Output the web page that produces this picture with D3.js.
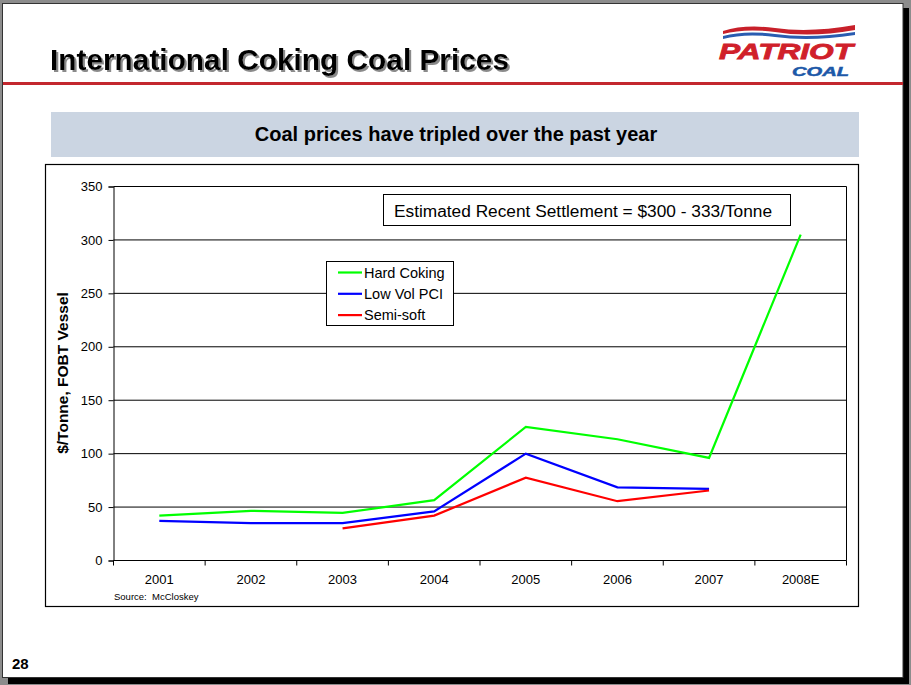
<!DOCTYPE html>
<html><head><meta charset="utf-8">
<script src="https://cdn.jsdelivr.net/npm/d3@7"></script>
<style>
html,body{margin:0;padding:0;background:#8c8c8c;}
svg{display:block;font-family:Arial,"Liberation Sans",sans-serif;}
</style></head>
<body>
<svg id="c" width="911" height="685"></svg>
<script>
const categories = ["2001","2002","2003","2004","2005","2006","2007","2008E"];
const hardCoking = [42, 46.5, 44.5, 56.5, 125, 113.5, 96, 305];
const lowVolPCI  = [37, 35, 35, 46, 100, 68.5, 67, null];
const semiSoft   = [null, null, 30, 42, 77.5, 55.5, 65.5, null];
const yTicks = [0, 50, 100, 150, 200, 250, 300, 350];
const seriesNames = ["Hard Coking", "Low Vol PCI", "Semi-soft"];
const seriesColors = ["#00ff00", "#0000ff", "#ff0000"];

const svg = d3.select("#c");
const defs = svg.append("defs");
const f = defs.append("filter").attr("id","sh").attr("x","-5%").attr("y","-20%").attr("width","110%").attr("height","150%");
f.append("feDropShadow").attr("dx",2).attr("dy",2).attr("stdDeviation",0.6).attr("flood-color","#8a8a8a").attr("flood-opacity",1);

// slide background + shadow
svg.append("rect").attr("x",8).attr("y",8).attr("width",901).attr("height",676).attr("fill","#000");
svg.append("rect").attr("x",2.5).attr("y",3.5).attr("width",900.5).attr("height",674).attr("fill","#fff").attr("stroke","#333").attr("stroke-width",1);

// title
svg.append("text").attr("x",50).attr("y",70).text("International Coking Coal Prices")
  .attr("font-family","'Liberation Sans Narrow','Arial Narrow',Arial,sans-serif").attr("font-weight","bold").attr("font-size",29)
  .attr("fill","#000").attr("textLength",459).attr("lengthAdjust","spacingAndGlyphs").attr("filter","url(#sh)");

// red rule
svg.append("rect").attr("x",3).attr("y",82).attr("width",900).attr("height",3).attr("fill","#c3272e");

// logo
const logo = svg.append("g");
logo.append("path").attr("d","M723,31 Q745,24 775,28 Q810,33 855,25 L855,30 Q810,38 775,32 Q745,28 723,34 Z").attr("fill","#c8202a");
logo.append("path").attr("d","M723,36 Q745,30 775,34 Q810,39 855,32 L855,35 Q810,42 775,37 Q745,33 723,39 Z").attr("fill","#2a5cb0");
logo.append("text").attr("x",719).attr("y",59).text("PATRIOT")
  .attr("font-weight","bold").attr("font-style","italic").attr("font-size",22).attr("fill","#d0202a")
  .attr("stroke","#d0202a").attr("stroke-width",0.8)
  .attr("textLength",134).attr("lengthAdjust","spacingAndGlyphs");
logo.append("text").attr("x",792).attr("y",76).text("COAL")
  .attr("font-weight","bold").attr("font-style","italic").attr("font-size",13).attr("fill","#1c58a8")
  .attr("stroke","#1c58a8").attr("stroke-width",0.5)
  .attr("textLength",57).attr("lengthAdjust","spacingAndGlyphs");

// subtitle band
svg.append("rect").attr("x",51).attr("y",112).attr("width",808).attr("height",45).attr("fill","#cbd5e2");
svg.append("text").attr("x",456).attr("y",141).attr("text-anchor","middle").text("Coal prices have tripled over the past year")
  .attr("font-weight","bold").attr("font-size",20).attr("fill","#000");

// chart frame
svg.append("rect").attr("x",45.5).attr("y",164.5).attr("width",813).attr("height",442).attr("fill","#fff").attr("stroke","#000").attr("stroke-width",1.2);

// scales
const x = d3.scaleBand().domain(categories).range([113.5,846.5]);
const y = d3.scaleLinear().domain([0,350]).range([560.5,186.5]);

// y axis
const yAxis = d3.axisLeft(y).tickValues(yTicks).tickSize(5).tickPadding(6);
const gy = svg.append("g").attr("transform","translate(113.5,0)").call(yAxis);
gy.select(".domain").attr("stroke","#000");
gy.selectAll(".tick text").attr("font-size",13).attr("font-family","Arial,'Liberation Sans',sans-serif").attr("fill","#000");
// gridlines
svg.append("g").selectAll("line").data(yTicks.filter(d=>d>0)).join("line")
  .attr("x1",113.5).attr("x2",846.5).attr("y1",d=>y(d)).attr("y2",d=>y(d)).attr("stroke","#000").attr("stroke-width",1);
// right border
svg.append("line").attr("x1",846.5).attr("x2",846.5).attr("y1",y(350)).attr("y2",y(0)).attr("stroke","#000");

// x axis
const xAxis = d3.axisBottom(x).tickSize(0).tickPadding(14);
const gx = svg.append("g").attr("transform",`translate(0,${y(0)})`).call(xAxis);
gx.select(".domain").remove();
gx.selectAll(".tick text").attr("font-size",13).attr("font-family","Arial,'Liberation Sans',sans-serif").attr("fill","#000");
svg.append("line").attr("x1",113.5).attr("x2",846.5).attr("y1",y(0)).attr("y2",y(0)).attr("stroke","#000");
const bounds = categories.map(c=>x(c)).concat([x.range()[1]]);
svg.append("g").selectAll("line").data(bounds).join("line")
  .attr("x1",d=>d).attr("x2",d=>d).attr("y1",y(0)).attr("y2",y(0)+5).attr("stroke","#000");

// y label
svg.append("text").attr("transform","translate(68,373) rotate(-90)").attr("text-anchor","middle")
  .text("$/Tonne, FOBT Vessel").attr("font-weight","bold").attr("font-size",15.5).attr("fill","#000");

// source
svg.append("text").attr("x",114).attr("y",600).style("white-space","pre").text("Source:  McCloskey").attr("font-size",9.5).attr("fill","#000");

// lines
const series = [hardCoking, lowVolPCI, semiSoft];
const line = d3.line().defined(d=>d.v!=null).x(d=>x(d.c)+x.bandwidth()/2).y(d=>y(d.v));
series.forEach((s,i)=>{
  svg.append("path").datum(categories.map((c,j)=>({c, v:s[j]})))
    .attr("d",line).attr("fill","none").attr("stroke",seriesColors[i]).attr("stroke-width",2.2);
});

// legend
const lg = svg.append("g");
lg.append("rect").attr("x",326.5).attr("y",261.5).attr("width",127).attr("height",64).attr("fill","#fff").attr("stroke","#000");
seriesNames.forEach((n,i)=>{
  const yy = 272.5 + i*21.3;
  lg.append("line").attr("x1",338).attr("x2",362).attr("y1",yy).attr("y2",yy).attr("stroke",seriesColors[i]).attr("stroke-width",2.2);
  lg.append("text").attr("x",364).attr("y",yy+5).text(n).attr("font-size",14.5).attr("fill","#000");
});

// annotation
svg.append("rect").attr("x",383.5).attr("y",194.5).attr("width",407).attr("height",31).attr("fill","#fff").attr("stroke","#000");
svg.append("text").attr("x",394).attr("y",216.5).text("Estimated Recent Settlement = $300 - 333/Tonne")
  .attr("font-size",17.3).attr("fill","#000");

// page number
svg.append("text").attr("x",12).attr("y",669).text("28")
  .attr("font-family","'Liberation Sans Narrow','Arial Narrow',Arial,sans-serif").attr("font-weight","bold").attr("font-size",15).attr("fill","#000");
</script>
</body></html>
